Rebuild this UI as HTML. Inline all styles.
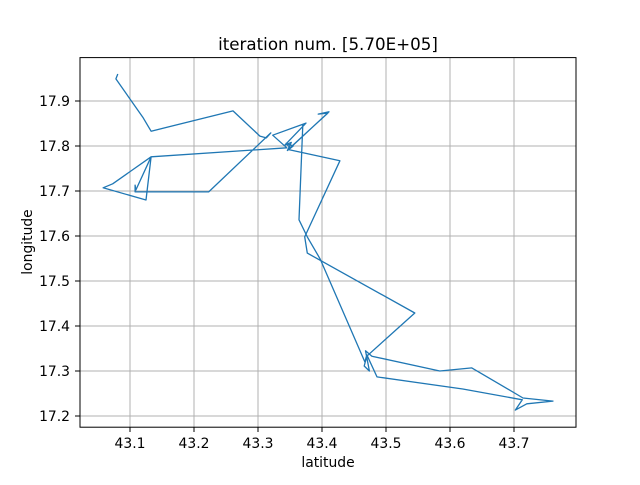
<!DOCTYPE html>
<html><head><meta charset="utf-8"><style>
html,body{margin:0;padding:0;background:#fff;}
svg text{font-family:"DejaVu Sans","Liberation Sans",sans-serif;fill:#000;}
</style></head><body>
<svg id="chart" width="640" height="480" xmlns="http://www.w3.org/2000/svg">
<rect x="0" y="0" width="640" height="480" fill="#fff"/>
<g id="grid"></g>
<g id="series"></g>
<rect x="80" y="57.6" width="496" height="369.6" fill="none" stroke="#000" stroke-width="1"/>
<g id="ticks"></g>
<text x="328" y="50" font-size="16.7" text-anchor="middle">iteration num. [5.70E+05]</text>
<text x="328" y="467" font-size="13.9" text-anchor="middle">latitude</text>
<text x="32" y="242" font-size="13.9" text-anchor="middle" transform="rotate(-90 32 242)">longitude</text>
</svg>
<script>
const xTicks = [43.1, 43.2, 43.3, 43.4, 43.5, 43.6, 43.7];
const yTicks = [17.2, 17.3, 17.4, 17.5, 17.6, 17.7, 17.8, 17.9];
const lat = [43.081,43.078,43.120,43.133,43.261,43.303,43.313,43.320,43.223,43.108,43.108,43.109,43.133,43.073,43.058,43.125,43.133,43.345,43.323,43.375,43.342,43.352,43.346,43.411,43.394,43.409,43.350,43.344,43.355,43.348,43.428,43.373,43.377,43.545,43.470,43.466,43.474,43.468,43.478,43.584,43.634,43.714,43.761,43.720,43.702,43.713,43.620,43.486,43.470,43.467,43.397,43.377,43.364,43.370];
const lon = [17.960,17.949,17.864,17.833,17.878,17.822,17.818,17.829,17.698,17.698,17.713,17.702,17.776,17.716,17.707,17.680,17.776,17.796,17.824,17.851,17.802,17.808,17.790,17.876,17.871,17.873,17.796,17.806,17.800,17.792,17.767,17.598,17.562,17.429,17.333,17.311,17.300,17.345,17.333,17.300,17.307,17.240,17.233,17.227,17.213,17.236,17.260,17.287,17.336,17.320,17.549,17.598,17.636,17.847];
function sx(v){return 130+(v-43.1)*640;}
function sy(v){return 416-(v-17.2)*450;}
const NS='http://www.w3.org/2000/svg';
const grid=document.getElementById('grid'), ticks=document.getElementById('ticks'), series=document.getElementById('series');
function mk(tag,attrs,parent){const e=document.createElementNS(NS,tag);for(const k in attrs)e.setAttribute(k,attrs[k]);parent.appendChild(e);return e;}
xTicks.forEach(v=>{
  const x=sx(v);
  const g=mk('line',{x1:x,y1:57.6,x2:x,y2:427.2,stroke:'#b0b0b0','stroke-width':1},grid);
  
  
  const t=mk('line',{x1:x,y1:427.2,x2:x,y2:432,stroke:'#000','stroke-width':1},ticks);
  
  
  const l=mk('text',{x:x,y:448,'font-size':13.9,'text-anchor':'middle'},ticks);
  l.textContent=v.toFixed(1);
  
  
});
yTicks.forEach(v=>{
  const y=sy(v);
  const g=mk('line',{x1:80,y1:y,x2:576,y2:y,stroke:'#b0b0b0','stroke-width':1},grid);
  
  
  const t=mk('line',{x1:75,y1:y,x2:80,y2:y,stroke:'#000','stroke-width':1},ticks);
  
  
  const l=mk('text',{x:70,y:y+5,'font-size':13.9,'text-anchor':'end'},ticks);
  l.textContent=v.toFixed(1);
  
  
});
const pts=lat.map((v,i)=>sx(v).toFixed(1)+','+sy(lon[i]).toFixed(1)).join(' ');
const pl=mk('polyline',{points:pts,fill:'none',stroke:'#1f77b4','stroke-width':1.3,'stroke-linejoin':'round'},series);


</script>
</body></html>
